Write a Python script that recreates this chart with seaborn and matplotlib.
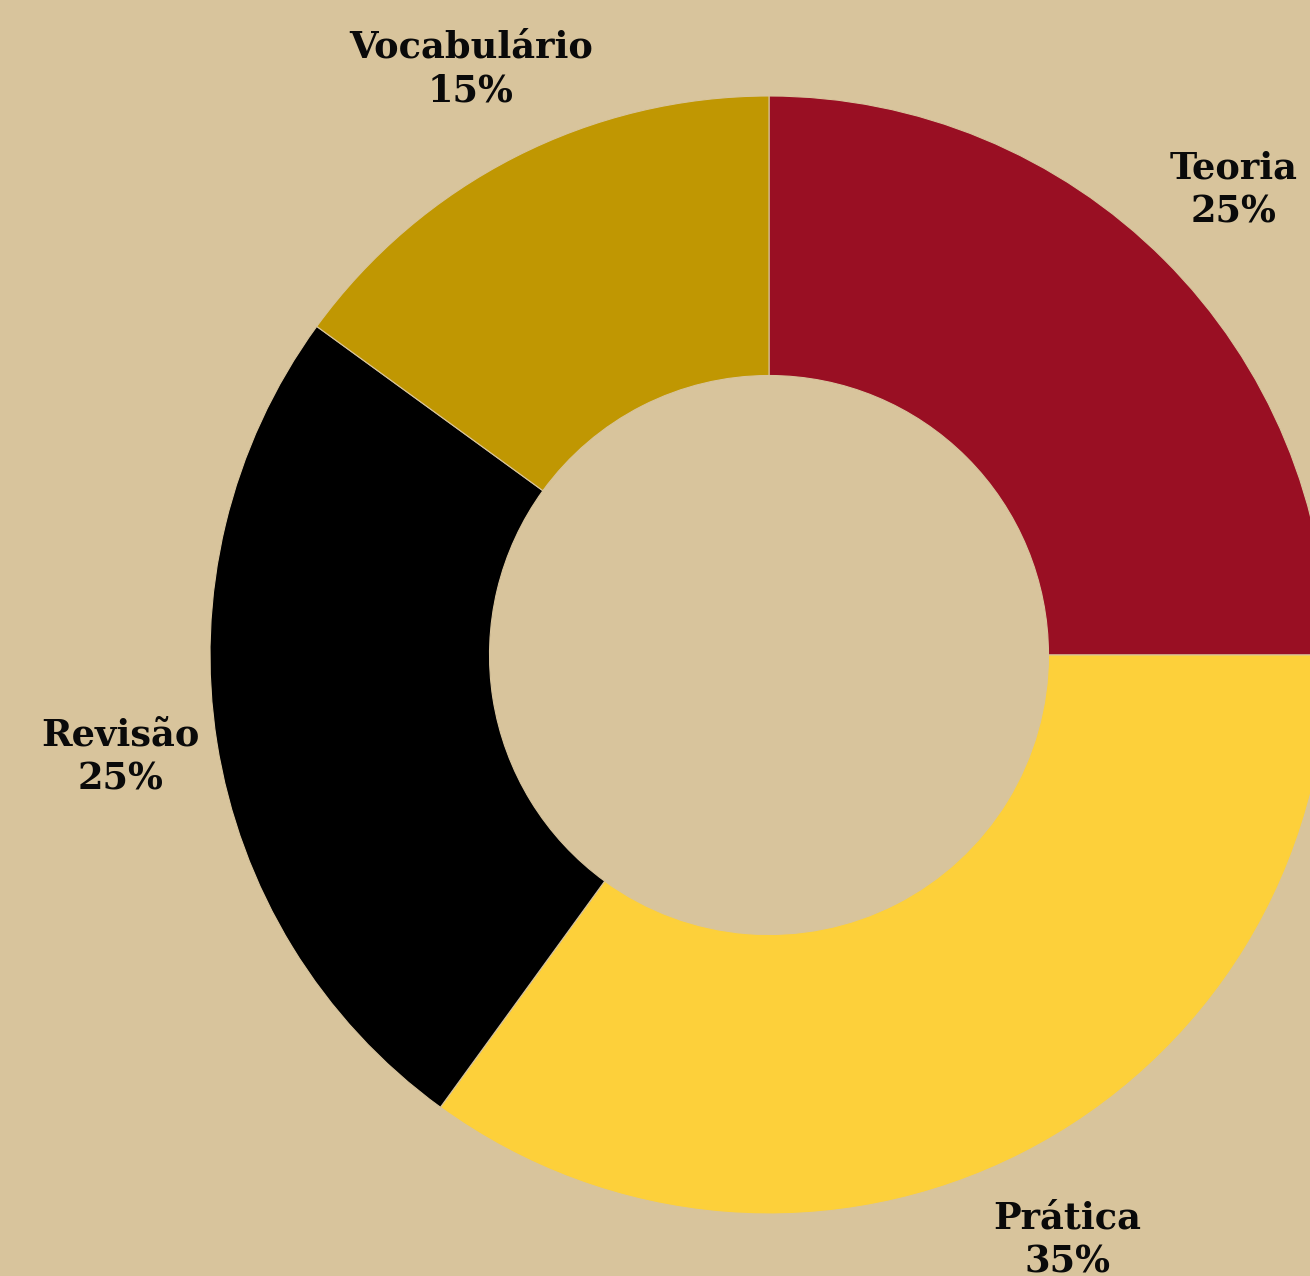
import numpy as np
import matplotlib.pyplot as plt
import seaborn as sns

# dados
categorias = ['Teoria', 'Prática', 'Revisão', 'Vocabulário']
percentuais = [25, 35, 25, 15]
cores = ['#990F23', '#FDD03A', '#000000', '#C09702']
fundo = '#D8C49C'

sns.set_theme(style="white")
plt.rcParams['font.family'] = ['DejaVu Serif']

fig = plt.figure(figsize=(13.10, 12.76), dpi=100, facecolor=fundo)
ax = fig.add_axes([0, 0, 1, 1])
ax.set_facecolor(fundo)

rotulos = [f"{c}\n{p}%" for c, p in zip(categorias, percentuais)]

wedges, textos = ax.pie(
    percentuais, labels=rotulos, colors=cores,
    startangle=90, counterclock=False, radius=1.0,
    labeldistance=1.175,
    wedgeprops={'width': 0.5, 'edgecolor': '#D8C49C', 'linewidth': 0.8},
    textprops={'fontsize': 26.5, 'fontweight': 'bold', 'color': '#0a0a0a'},
)
for t in textos:
    t.set_ha('center')
    t.set_va('center')
    t.set_multialignment('center')
    t.set_linespacing(1.3)

# centro do anel em (769, 655) px, raio externo 559 px
esc = 559
ax.set_xlim(-769 / esc, (1310 - 769) / esc)
ax.set_ylim(-(1276 - 655) / esc, 655 / esc)
ax.set_aspect('auto')
ax.axis('off')

fig.savefig("out.png", dpi=100, facecolor=fundo)
